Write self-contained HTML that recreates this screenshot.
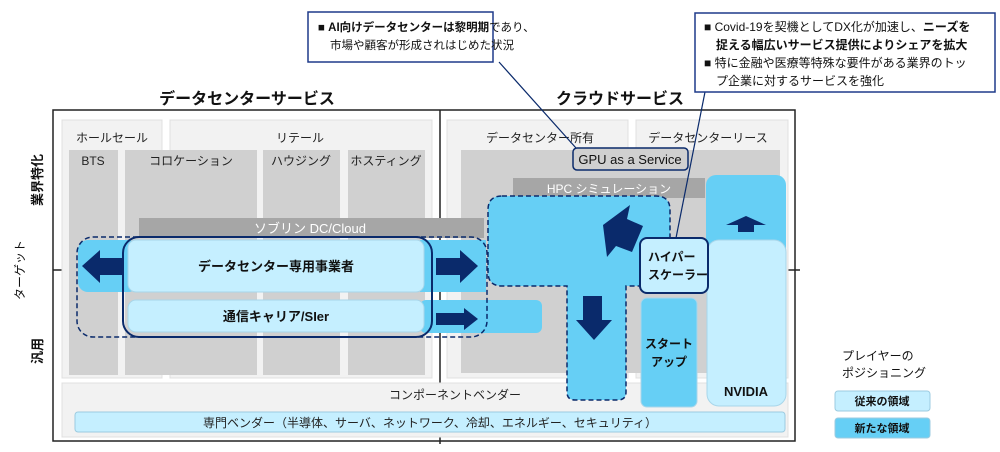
<!DOCTYPE html>
<html><head><meta charset="utf-8"><style>
html,body{margin:0;padding:0;background:#fff;}
svg{display:block;font-family:"Liberation Sans","Noto Sans CJK JP",sans-serif;}
</style></head><body>
<svg width="1000" height="452" viewBox="0 0 1000 452" xmlns="http://www.w3.org/2000/svg">
<rect x="53" y="110" width="742" height="331" fill="#fff" stroke="#222" stroke-width="1.5"/>
<line x1="440" y1="110" x2="440" y2="444" stroke="#222" stroke-width="1.5"/>
<line x1="53" y1="270" x2="75" y2="270" stroke="#222" stroke-width="1.5"/>
<line x1="785" y1="270" x2="800" y2="270" stroke="#222" stroke-width="1.5"/>
<rect x="62" y="120" width="100" height="258" fill="#f2f2f2" stroke="#e0e0e0"/>
<rect x="170" y="120" width="262" height="258" fill="#f2f2f2" stroke="#e0e0e0"/>
<rect x="69" y="150" width="49" height="225" fill="#d0d0d0"/>
<rect x="125" y="150" width="132" height="225" fill="#d0d0d0"/>
<rect x="263" y="150" width="77" height="225" fill="#d0d0d0"/>
<rect x="348" y="150" width="77" height="225" fill="#d0d0d0"/>
<g font-size="12" fill="#222">
<text x="112" y="142" text-anchor="middle">ホールセール</text>
<text x="300" y="142" text-anchor="middle">リテール</text>
<text x="93" y="165" text-anchor="middle">BTS</text>
<text x="191" y="165" text-anchor="middle">コロケーション</text>
<text x="301" y="165" text-anchor="middle">ハウジング</text>
<text x="386" y="165" text-anchor="middle">ホスティング</text>
</g>
<rect x="447" y="120" width="181" height="258" fill="#f2f2f2" stroke="#e0e0e0"/>
<rect x="636" y="120" width="152" height="258" fill="#f2f2f2" stroke="#e0e0e0"/>
<rect x="461" y="150" width="319" height="223" fill="#d0d0d0"/>
<g font-size="12" fill="#222">
<text x="540" y="142" text-anchor="middle">データセンター所有</text>
<text x="708" y="142" text-anchor="middle">データセンターリース</text>
</g>
<rect x="62" y="383" width="726" height="54" fill="#f2f2f2" stroke="#e0e0e0"/>
<text x="455" y="399" font-size="12" fill="#222" text-anchor="middle">コンポーネントベンダー</text>
<rect x="75" y="412" width="710" height="20" rx="3" fill="#c5efff" stroke="#9ccbe0"/>
<text x="430" y="427" font-size="12" fill="#222" text-anchor="middle">専門ベンダー（半導体、サーバ、ネットワーク、冷却、エネルギー、セキュリティ）</text>
<rect x="139" y="218" width="345" height="20" fill="#a6a6a6"/>
<text x="310" y="233" font-size="13" fill="#fff" text-anchor="middle">ソブリン DC/Cloud</text>
<rect x="513" y="178" width="192" height="20" fill="#a6a6a6"/>
<text x="609" y="193" font-size="12" fill="#fff" text-anchor="middle">HPC シミュレーション</text>
<rect x="573" y="148" width="115" height="22" rx="4" fill="#d0d0d0" stroke="#0a2a6b" stroke-width="1.5"/>
<text x="630" y="164" font-size="13" fill="#111" text-anchor="middle">GPU as a Service</text>
<rect x="78" y="240" width="60" height="52" rx="10" fill="#66cff5"/>
<rect x="420" y="240" width="66" height="52" fill="#66cff5"/>
<rect x="420" y="300" width="122" height="33" rx="6" fill="#66cff5"/>
<rect x="77" y="237" width="410" height="100" rx="16" fill="none" stroke="#0a2a6b" stroke-width="1.5" stroke-dasharray="5,3"/>
<rect x="123" y="237" width="309" height="100" rx="16" fill="none" stroke="#0a2a6b" stroke-width="2"/>
<rect x="128" y="240" width="296" height="52" rx="8" fill="#c5efff" stroke="#a8d6ea"/>
<rect x="128" y="300" width="296" height="32" rx="8" fill="#c5efff" stroke="#a8d6ea"/>
<text x="276" y="271" font-size="13" font-weight="bold" fill="#111" text-anchor="middle">データセンター専用事業者</text>
<text x="276" y="321" font-size="13" font-weight="bold" fill="#111" text-anchor="middle">通信キャリア/SIer</text>
<polygon points="82,266 100,250 100,258 124,258 124,275 100,275 100,283" fill="#0a2a6b"/>
<polygon points="478,266 460,250 460,258 436,258 436,275 460,275 460,283" fill="#0a2a6b"/>
<polygon points="478,319 464,308 464,313 436,313 436,325 464,325 464,330" fill="#0a2a6b"/>
<path d="M502,196 H656 Q670,196 670,210 V286 H626 V392 Q626,400 618,400 H575 Q567,400 567,392 V286 H502 Q488,286 488,272 V210 Q488,196 502,196 Z" fill="#66cff5" stroke="#0a2a6b" stroke-width="1.5" stroke-dasharray="5,3"/>
<polygon points="630,205 603,225 607,257 616,246 632,252 643,226 627,219" fill="#0a2a6b"/>
<polygon points="583,296 602,296 602,320 612,320 594,340 576,320 583,320" fill="#0a2a6b"/>
<rect x="706" y="175" width="80" height="85" rx="10" fill="#66cff5"/>
<rect x="707" y="240" width="79" height="166" rx="12" fill="#c5efff" stroke="#a8d6ea"/>
<polygon points="746,216 726,225 738,225 738,232 754,232 754,225 766,225" fill="#0a2a6b"/>
<text x="746" y="396" font-size="13" font-weight="bold" fill="#111" text-anchor="middle">NVIDIA</text>
<rect x="641" y="298" width="56" height="109" rx="6" fill="#66cff5" stroke="#a8d6ea"/>
<text x="669" y="348" font-size="12" font-weight="bold" fill="#111" text-anchor="middle">スタート</text>
<text x="669" y="366" font-size="12" font-weight="bold" fill="#111" text-anchor="middle">アップ</text>
<rect x="640" y="238" width="68" height="55" rx="7" fill="#c5efff" stroke="#0a2a6b" stroke-width="2"/>
<text x="648" y="261" font-size="12" font-weight="bold" fill="#111">ハイパー</text>
<text x="648" y="279" font-size="12" font-weight="bold" fill="#111">スケーラー</text>
<text x="247" y="104" font-size="16" font-weight="bold" fill="#111" text-anchor="middle">データセンターサービス</text>
<text x="620" y="104" font-size="16" font-weight="bold" fill="#111" text-anchor="middle">クラウドサービス</text>
<line x1="499" y1="62" x2="576" y2="148" stroke="#0a2a6b" stroke-width="1.2"/>
<line x1="705" y1="92" x2="676" y2="238" stroke="#0a2a6b" stroke-width="1.2"/>
<rect x="308" y="12" width="185" height="50" fill="#fff" stroke="#1f3a8a" stroke-width="1.5"/>
<text x="318" y="31" font-size="11.5" fill="#111">■ <tspan font-weight="bold">AI向けデータセンターは黎明期</tspan>であり、</text>
<text x="330" y="49" font-size="11.5" fill="#111">市場や顧客が形成されはじめた状況</text>
<rect x="695" y="13" width="300" height="79" fill="#fff" stroke="#1f3a8a" stroke-width="1.5"/>
<text x="704" y="31" font-size="12" fill="#111">■ Covid-19を契機としてDX化が加速し、<tspan font-weight="bold">ニーズを</tspan></text>
<text x="716" y="49" font-size="12" font-weight="bold" fill="#111">捉える幅広いサービス提供によりシェアを拡大</text>
<text x="704" y="67" font-size="12" fill="#111">■ 特に金融や医療等特殊な要件がある業界のトッ</text>
<text x="716" y="85" font-size="12" fill="#111">プ企業に対するサービスを強化</text>
<text transform="translate(42,180) rotate(-90)" font-size="13" font-weight="bold" fill="#111" text-anchor="middle">業界特化</text>
<text transform="translate(24,270) rotate(-90)" font-size="12" fill="#111" text-anchor="middle">ターゲット</text>
<text transform="translate(42,351) rotate(-90)" font-size="13" font-weight="bold" fill="#111" text-anchor="middle">汎用</text>
<text x="842" y="360" font-size="12" fill="#111">プレイヤーの</text>
<text x="842" y="377" font-size="12" fill="#111">ポジショニング</text>
<rect x="835" y="391" width="95" height="20" rx="3" fill="#c5efff" stroke="#9ccbe0"/>
<text x="882" y="405" font-size="11" font-weight="bold" fill="#111" text-anchor="middle">従来の領域</text>
<rect x="835" y="418" width="95" height="20" rx="3" fill="#66cff5" stroke="#9ccbe0"/>
<text x="882" y="432" font-size="11" font-weight="bold" fill="#111" text-anchor="middle">新たな領域</text>
</svg>
</body></html>
